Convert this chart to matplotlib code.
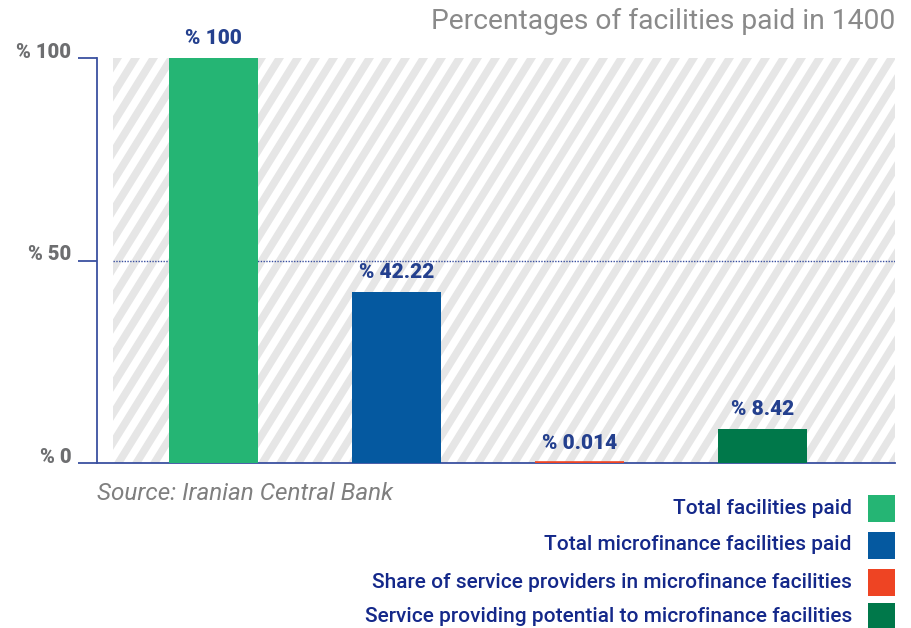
import matplotlib
matplotlib.use("Agg")
import matplotlib.pyplot as plt
from matplotlib.patches import Polygon, Rectangle

plt.rcParams["font.family"] = ["Roboto", "DejaVu Sans"]

# Data
categories = [
    "Total facilities paid",
    "Total microfinance facilities paid",
    "Share of service providers in microfinance facilities",
    "Service providing potential to microfinance facilities",
]
values = [100, 42.22, 0.014, 8.42]
colors = ["#25b574", "#0559a0", "#ee4423", "#00784a"]
y_ticks = [0, 50, 100]
y_tick_labels = ["% 0", "% 50", "% 100"]
title = "Percentages of facilities paid in 1400"
source = "Source: Iranian Central Bank"

W, H = 912, 628
fig = plt.figure(figsize=(W / 100, H / 100), dpi=100)

def fx(px):
    return px / W

def fy(py):
    return 1 - py / H

# Striped backdrop behind the plot area (pixel coordinates)
bg = fig.add_axes([0, 0, 1, 1], zorder=0)
bg.set_xlim(0, W)
bg.set_ylim(H, 0)
bg.axis("off")
x_left, x_right, y_top, y_bot = 113, 895, 58, 463
clip = Rectangle((x_left, y_top), x_right - x_left, y_bot - y_top,
                 transform=bg.transData, facecolor="none", edgecolor="none")
bg.add_patch(clip)
period, stripe_w, shift = 18.0, 9.0, 0.62 * (y_bot - y_top)
x0 = x_left - shift - period
while x0 < x_right + period:
    poly = Polygon([(x0, y_bot), (x0 + stripe_w, y_bot),
                    (x0 + stripe_w + shift, y_top), (x0 + shift, y_top)],
                   closed=True, facecolor="#e6e6e6", edgecolor="none")
    bg.add_patch(poly)
    poly.set_clip_path(clip)
    x0 += period

# Main plot area
ax = fig.add_axes([fx(97), fy(463), fx(895 - 97), (463 - 58) / H], zorder=1)
ax.patch.set_alpha(0)
axis_color = "#3a50a0"
xs = list(range(len(values)))
ax.set_xlim(-0.637, 3.724)
ax.set_ylim(0, 100)
# thin outline keeps very small bars visible
ax.bar(xs, values, width=0.486, color=colors, edgecolor=colors,
       linewidth=[0, 0, 2.6, 0], zorder=3)

ax.axhline(50, xmin=(113 - 97) / (895 - 97), xmax=1, color=axis_color,
           linestyle=(0, (1.0, 1.0)), linewidth=1.0, zorder=2)

for i, v in zip(xs, values):
    ax.annotate(f"% {v:g}", (i, v), xytext=(0, 7), textcoords="offset points",
                ha="center", va="bottom", fontsize=15, fontweight="heavy",
                color="#24408e", zorder=4)

for s in ["top", "right"]:
    ax.spines[s].set_visible(False)
for s in ["left", "bottom"]:
    ax.spines[s].set_color(axis_color)
    ax.spines[s].set_linewidth(1.3)
ax.set_xticks([])
ax.set_yticks(y_ticks)
ax.set_yticklabels(y_tick_labels, fontsize=14.5, fontweight="heavy", color="#6d6e70")
for t in ax.get_yticklabels():
    t.set_va("baseline")
ax.tick_params(axis="y", direction="out", length=13.5, width=1.3,
               color=axis_color, pad=5)

# Title and source
fig.text(fx(895), fy(21), title, ha="right", va="center", fontsize=20.3,
         color="#8a8a8a")
fig.text(fx(97), fy(494), source, ha="left", va="center", fontsize=17.5,
         style="italic", color="#7f7f7f")

# Legend on the right
legend_y = [508, 545, 582, 616]
for cat, col, ly in zip(categories, colors, legend_y):
    fig.text(fx(852), fy(ly), cat, ha="right", va="center", fontsize=15,
             fontweight="medium", color="#14288a")
    fig.patches.append(Rectangle((fx(868), fy(ly + 13.5)), fx(27), 27 / H,
                                 transform=fig.transFigure, facecolor=col,
                                 edgecolor="none"))

fig.savefig("out.png", dpi=100)
